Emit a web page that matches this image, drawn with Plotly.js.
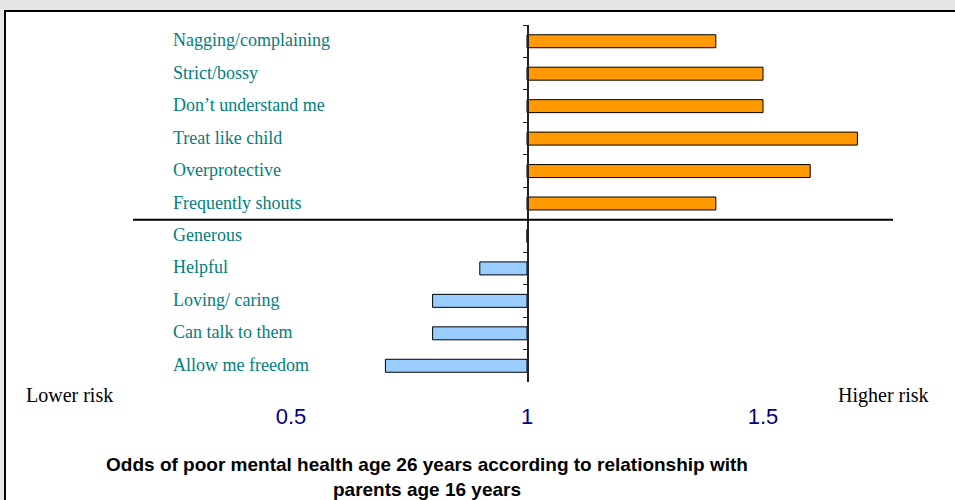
<!DOCTYPE html>
<html>
<head>
<meta charset="utf-8">
<script src="https://cdn.plot.ly/plotly-3.0.1.min.js"></script>
<style>
  html, body { margin: 0; padding: 0; background: #e6e6e6; width: 955px; height: 500px; overflow: hidden; }
  #box { position: absolute; left: 4px; top: 10px; width: 980px; height: 520px; border: 2px solid #000; background: #fff; }
  #chart { position: absolute; left: 0; top: 0; width: 955px; height: 500px; }
</style>
</head>
<body>
<div id="box"></div>
<div id="chart"></div>
<script>
// Data
const categories = [
  "Nagging/complaining", "Strict/bossy", "Don\u2019t understand me", "Treat like child",
  "Overprotective", "Frequently shouts",
  "Generous", "Helpful", "Loving/ caring", "Can talk to them", "Allow me freedom"
];
const negativeCats = categories.slice(0, 6);
const negativeOdds = [1.4, 1.5, 1.5, 1.7, 1.6, 1.4];
const positiveCats = categories.slice(6);
const positiveOdds = [1.0, 0.9, 0.8, 0.8, 0.7];
const tickValues = [0.5, 1, 1.5];
const tickLabels = ["0.5", "1", "1.5"];
const baseline = 1;

const W = 955, H = 500;
const plotTop = 25, plotBottom = 382;
const pxPerUnit = 472, basePx = 527;

const traces = [
  {
    type: "bar", orientation: "h",
    y: negativeCats, x: negativeOdds.map(v => v - baseline), base: baseline,
    width: 0.4,
    marker: { color: "#ff9900", line: { color: "#000", width: 1 } },
    hoverinfo: "skip", showlegend: false
  },
  {
    type: "bar", orientation: "h",
    y: positiveCats, x: positiveOdds.map(v => v - baseline), base: baseline,
    width: 0.4,
    marker: { color: "#99ccff", line: { color: "#000", width: 1 } },
    hoverinfo: "skip", showlegend: false
  }
];

const serif = "Liberation Serif, Times New Roman, serif";
const annotations = categories.map(c => ({
  x: 171 / W, xref: "paper", xanchor: "left",
  y: c, yref: "y", yanchor: "middle", yshift: 1,
  text: c, showarrow: false,
  font: { family: serif, size: 18, color: "#008080" }
}));
const pyPaper = py => (plotBottom - py) / (plotBottom - plotTop);
annotations.push({
  x: 24 / W, xref: "paper", xanchor: "left",
  y: pyPaper(395), yref: "paper", yanchor: "middle",
  text: "Lower risk", showarrow: false,
  font: { family: serif, size: 20, color: "#000" }
});
annotations.push({
  x: 931 / W, xref: "paper", xanchor: "right",
  y: pyPaper(395), yref: "paper", yanchor: "middle",
  text: "Higher risk", showarrow: false,
  font: { family: serif, size: 20, color: "#000" }
});

const layout = {
  width: W, height: H,
  margin: { l: 0, r: 0, t: plotTop, b: H - plotBottom, pad: 0 },
  paper_bgcolor: "rgba(0,0,0,0)",
  plot_bgcolor: "rgba(0,0,0,0)",
  barmode: "overlay",
  title: {
    text: "Odds of poor mental health age 26 years according to relationship with<br>parents age 16 years",
    x: 427 / W, xanchor: "center", xref: "container",
    y: 1 - 471 / H, yanchor: "middle", yref: "container",
    font: { family: "Liberation Sans, Arial, sans-serif", size: 19, color: "#000", weight: "bold" }
  },
  xaxis: {
    range: [baseline - basePx / pxPerUnit, baseline + (W - basePx) / pxPerUnit],
    tickvals: tickValues, ticktext: tickLabels,
    tickfont: { family: "Liberation Sans, Arial, sans-serif", size: 22, color: "#000080" },
    ticks: "", showline: false, showgrid: false, zeroline: false,
    ticklabelstandoff: 19, fixedrange: true
  },
  yaxis: {
    type: "category",
    categoryorder: "array", categoryarray: categories,
    range: [categories.length - 0.5, -0.5],
    anchor: "free", position: basePx / W,
    showline: true, linecolor: "#222", linewidth: 1.5,
    ticks: "outside", ticklen: 4, tickcolor: "#222", tickwidth: 1,
    tickson: "boundaries",
    showticklabels: false, showgrid: false, zeroline: false, fixedrange: true
  },
  shapes: [{
    type: "line", xref: "paper", yref: "y",
    x0: 133 / W, x1: 893 / W, y0: 5.5, y1: 5.5,
    line: { color: "#000", width: 2 }
  }],
  annotations: annotations
};

Plotly.newPlot("chart", traces, layout, { displayModeBar: false, staticPlot: true });
</script>
</body>
</html>
